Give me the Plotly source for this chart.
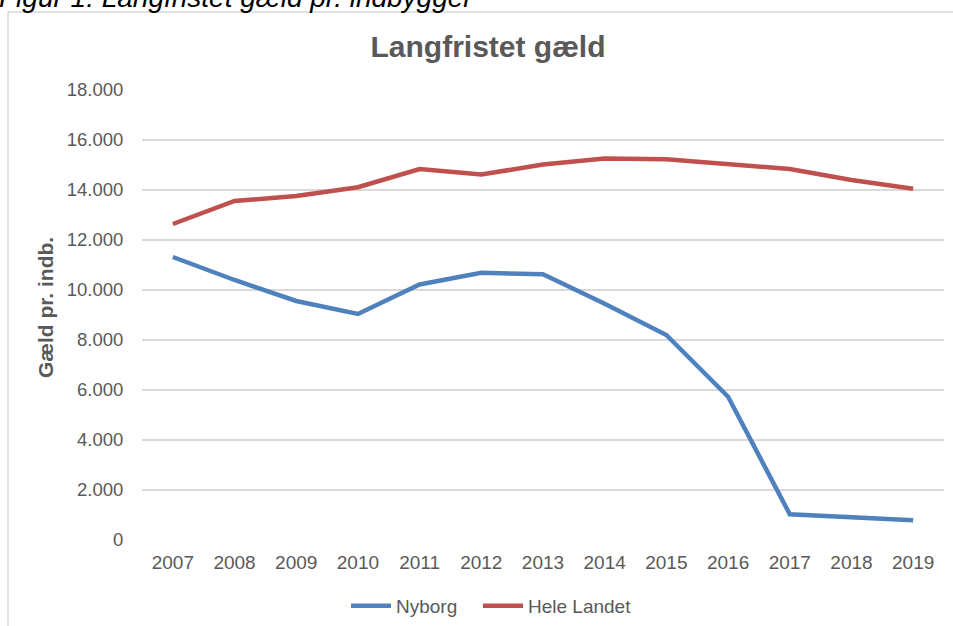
import plotly.graph_objects as go

years = ["2007", "2008", "2009", "2010", "2011", "2012", "2013",
         "2014", "2015", "2016", "2017", "2018", "2019"]
nyborg = [11320, 10400, 9560, 9040, 10220, 10690, 10630,
          9450, 8200, 5730, 1030, 910, 790]
hele_landet = [12640, 13560, 13760, 14110, 14840, 14620, 15020,
               15260, 15230, 15050, 14840, 14400, 14050]
y_ticks = [0, 2000, 4000, 6000, 8000, 10000, 12000, 14000, 16000, 18000]

W, H = 953, 626
ML, MR, MT, MB = 142, 9, 90, 86
PW, PH = W - ML - MR, H - MT - MB


def px(x):
    return (x - ML) / PW


def py(y):
    return (H - MB - y) / PH


FONT = "Arial, Liberation Sans, sans-serif"
GREY = "#595959"

fig = go.Figure()
fig.add_trace(go.Scatter(x=years, y=nyborg, mode="lines", name="Nyborg",
                         legend="legend",
                         line=dict(color="#4F81BD", width=4.5)))
fig.add_trace(go.Scatter(x=years, y=hele_landet, mode="lines", name="Hele Landet",
                         legend="legend2",
                         line=dict(color="#C0504D", width=4.5)))

legend_style = dict(orientation="h", xanchor="left", y=py(606), yanchor="middle",
                    font=dict(family=FONT, size=19, color=GREY),
                    itemwidth=40, bgcolor="rgba(0,0,0,0)")

fig.update_layout(
    width=W, height=H,
    margin=dict(l=ML, r=MR, t=MT, b=MB, autoexpand=False),
    paper_bgcolor="white", plot_bgcolor="white",
    separators=",.",
    font=dict(family=FONT, color=GREY, size=18),
    title=dict(text="<b>Langfristet gæld</b>", xref="container",
               x=488 / W, xanchor="center",
               yref="container", y=1 - 46 / H, yanchor="middle",
               font=dict(family=FONT, size=30, color=GREY)),
    showlegend=True,
    legend=dict(x=px(346), **legend_style),
    legend2=dict(x=px(478), **legend_style),
    xaxis=dict(type="category", range=[-0.5, 12.5], showgrid=False,
               showline=False, zeroline=False, automargin=False,
               ticks="outside", ticklen=5, tickcolor="rgba(0,0,0,0)",
               tickfont=dict(family=FONT, size=19, color=GREY)),
    yaxis=dict(range=[0, 18000], tickvals=y_ticks, tickformat=",d",
               showgrid=True, gridcolor="#D9D9D9", gridwidth=1.5,
               zeroline=False, showline=False, automargin=False,
               ticks="outside", ticklen=14, tickcolor="rgba(0,0,0,0)",
               tickfont=dict(family=FONT, size=18.5, color=GREY)),
)

# y-axis title
fig.add_annotation(text="<b>Gæld pr. indb.</b>", textangle=-90,
                   xref="paper", yref="paper", x=px(45), y=py(308),
                   xanchor="center", yanchor="middle", showarrow=False,
                   font=dict(family=FONT, size=21, color=GREY))

# outer chart border (top and left edges visible)
fig.add_shape(type="line", xref="paper", yref="paper",
              x0=px(8), x1=px(W + 5), y0=py(12), y1=py(12),
              line=dict(color="#D9D9D9", width=1.5))
fig.add_shape(type="line", xref="paper", yref="paper",
              x0=px(8), x1=px(8), y0=py(12), y1=py(H + 5),
              line=dict(color="#D9D9D9", width=1.5))

# figure caption, partly cut off at the top
fig.add_annotation(text="<i>Figur 1: Langfristet gæld pr. indbygger</i>",
                   xref="paper", yref="paper", x=px(-3), y=py(15),
                   xanchor="left", yanchor="bottom", showarrow=False,
                   font=dict(family=FONT, size=28, color="black"))

fig.write_html("out.html",
               config={"displayModeBar": False},
               post_script="document.body.style.margin='0';"
                           "document.body.style.overflow='hidden';")
